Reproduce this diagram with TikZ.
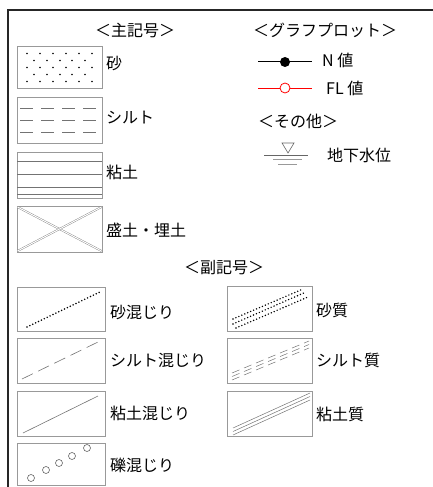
\documentclass[tikz,border=0pt]{standalone}
\usepackage{fontspec}
\setmainfont{Noto Sans CJK JP}
\begin{document}
\begin{tikzpicture}[x=1pt,y=-1pt]
\tikzset{symbox/.style = {draw=black!40,line width=0.7pt,minimum width=85pt,minimum height=45pt,inner sep=0pt}}
\tikzset{txt/.style = {anchor=west,inner sep=0pt,font=\fontsize{16}{16}\selectfont}}
\tikzset{head/.style = {inner sep=0pt,font=\fontsize{16}{16}\selectfont}}
\tikzset{hatch/.style = {black!55,line width=0.6pt}}
\tikzset{dots/.style = {line width=1.7pt,line cap=round,dash pattern=on 0pt off 3.2pt}}
\useasboundingbox (0,0) rectangle (433,487);
% frame
\draw[line width=1.5pt,black!85] (433,10) -- (8,10) -- (8,487);
% headings
\node[head] (mainhd) at (135,30) {＜主記号＞};
\node[head] (plothd) at (325,30) {＜グラフプロット＞};
\node[head] (otherhd) at (298,121) {＜その他＞};
\node[head] (subhd) at (224,268) {＜副記号＞};
% main symbols
\node[symbox,minimum height=42pt] (sand) at (59.5,67) {};
\node[symbox,minimum height=46pt] (silt) at (59.5,120) {};
\node[symbox,minimum height=46pt] (clay) at (59.5,175) {};
\node[symbox,minimum height=46pt] (fill) at (59.5,229) {};
\node[txt] (sandtx) at (106,64) {砂};
\node[txt] (silttx) at (106,118) {シルト};
\node[txt] (claytx) at (106,172) {粘土};
\node[txt] (filltx) at (106,230) {盛土・埋土};
\foreach \y in {53.5,67.5,81.5}
  \foreach \x in {27,40,53,66,79,92} \fill (\x,\y) circle (0.95);
\foreach \y in {60.5,74.5}
  \foreach \x in {34,47,60,72,85} \fill (\x,\y) circle (0.95);
\foreach \y in {108,120,132}
  \draw[hatch,dash pattern=on 13pt off 8pt] (20,\y) -- (98,\y);
\foreach \y in {161,174,187,194}
  \draw[hatch] (17,\y) -- (102,\y);
\draw[black!50,line width=0.4pt,double,double distance=1pt] (17.5,207) -- (101.5,251);
\draw[black!50,line width=0.4pt,double,double distance=1pt] (17.5,251) -- (101.5,207);
% graph plots
\draw[line width=1pt] (258,62) -- (312,62);
\fill (285,62) circle (5);
\node[txt] (ntx) at (322,60) {N 値};
\draw[red,line width=0.8pt] (258,88) -- (312,88);
\draw[red,line width=0.8pt,fill=white] (285,88) circle (5);
\node[txt] (fltx) at (326,88) {FL 値};
% ground water level
\draw[black!60,line width=0.6pt] (282,143) -- (294,143) -- (288,153) -- cycle;
\draw[black!60,line width=0.8pt] (264,155) -- (308,155);
\draw[black!40,line width=0.8pt] (273,159.5) -- (302,159.5);
\draw[black!40,line width=0.8pt] (278,164) -- (297,164);
\node[txt] (gwltx) at (327,155) {地下水位};
% sub symbols on the left
\node[symbox,minimum width=88pt,minimum height=44pt] (sandmix) at (61,309) {};
\node[symbox,minimum width=88pt] (siltmix) at (61,360.5) {};
\node[symbox,minimum width=88pt] (claymix) at (61,413.5) {};
\node[symbox,minimum width=88pt,minimum height=42pt] (gravmix) at (61,464) {};
\node[txt] (sandmixtx) at (110,312) {砂混じり};
\node[txt] (siltmixtx) at (110,360) {シルト混じり};
\node[txt] (claymixtx) at (110,413) {粘土混じり};
\node[txt] (gravmixtx) at (110,465) {礫混じり};
\draw[dots] (27,327) -- (100,292);
\draw[hatch,dash pattern=on 12pt off 6pt] (22,379) -- (98,342);
\draw[hatch] (23,433) -- (98,396);
\foreach \x/\y in {31/478,46/470,59/463,72/456,87/448}
  \draw[black!60,line width=0.6pt] (\x,\y) circle (3.5);
% sub symbols on the right
\node[symbox] (sandq) at (269.5,308.5) {};
\node[symbox] (siltq) at (269.5,360.5) {};
\node[symbox] (clayq) at (269.5,414) {};
\node[txt] (sandqtx) at (316,310) {砂質};
\node[txt] (siltqtx) at (316,360) {シルト質};
\node[txt] (clayqtx) at (316,414) {粘土質};
\draw[dots,line width=1.6pt] (233,319) -- (303,289);
\draw[dots,line width=1.6pt] (233,324) -- (306,292);
\draw[dots,line width=1.6pt] (236,328) -- (308,297);
\foreach \d in {0,3.5,7}
  \draw[hatch,line width=0.5pt,dash pattern=on 8pt off 5pt] (232,373+\d) -- (309,341+\d);
\foreach \d in {0,3.5,7}
  \draw[hatch,line width=0.5pt] (233,428+\d) -- (310,393+\d);
\end{tikzpicture}
\end{document}
